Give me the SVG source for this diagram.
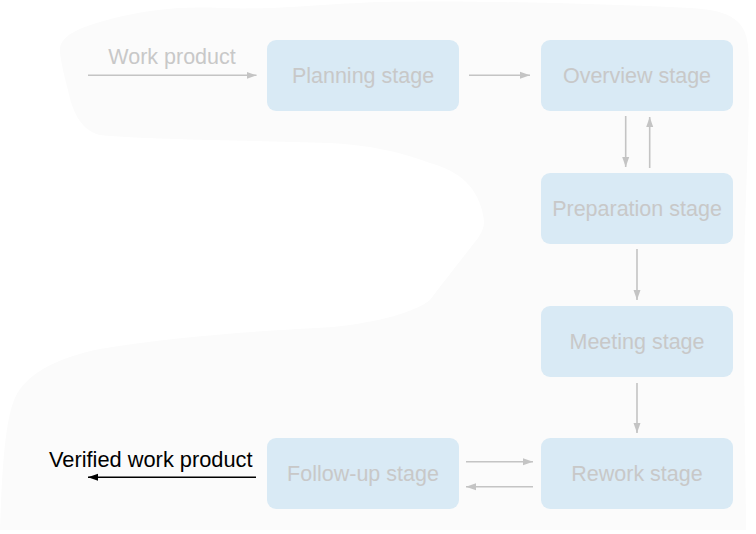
<svg xmlns="http://www.w3.org/2000/svg" width="756" height="534" viewBox="0 0 756 534">
<style>
.box{fill:#d9eaf5;}
.lbl{font-family:"Liberation Sans",Arial,sans-serif;font-size:21.5px;fill:#c8c8c8;text-anchor:middle;}
.edge{stroke:#c4c4c4;stroke-width:1.6;fill:none;marker-end:url(#ah);}
.out{stroke:#000;stroke-width:1.6;fill:none;marker-end:url(#ahb);}
</style>
<defs>
<marker id="ah" markerUnits="userSpaceOnUse" markerWidth="11" markerHeight="8" refX="10" refY="4" orient="auto"><path d="M0,0.5 L10,4 L0,7.5 z" fill="#c4c4c4"/></marker>
<marker id="ahb" markerUnits="userSpaceOnUse" markerWidth="11" markerHeight="8" refX="10" refY="4" orient="auto"><path d="M0,0.5 L10,4 L0,7.5 z" fill="#000"/></marker>
</defs>
<rect width="756" height="534" fill="#ffffff"/>
<path id="backdrop" fill="#fbfbfb" d="M60,52 C58,36 80,28 100,22 C140,10 180,6 220,8 C280,10 320,4 380,2 C480,0 600,4 690,8 C730,10 745,20 748,45 C752,100 744,200 744,300 C744,400 746,480 746,530 L0,530 C2,470 5,420 15,398 C25,375 55,358 100,349 C180,335 280,330 333,327 C380,322 415,312 430,300 C445,280 465,255 478,238 C485,228 485,222 482,210 C476,188 462,172 430,163 C400,152 370,145 330,143 C250,140 150,140 100,135 C80,130 72,110 68,90 C64,75 61,62 60,52 Z"/>
<g id="connectors">
<path class="edge" d="M88,75.3 L256.5,75.3"/>
<path class="edge" d="M469,75.3 L530,75.3"/>
<path class="edge" d="M625.7,116 L625.7,167"/>
<path class="edge" d="M649.7,168 L649.7,117"/>
<path class="edge" d="M637,249 L637,300"/>
<path class="edge" d="M637,383 L637,433"/>
<path class="edge" d="M466,461.7 L533,461.7"/>
<path class="edge" d="M533,486.7 L466,486.7"/>
<path class="out" d="M256,477.3 L88,477.3"/>
<text x="172" y="64" class="lbl">Work product</text>
<text x="49" y="467" font-family="Liberation Sans,Arial,sans-serif" font-size="21.8" fill="#000">Verified work product</text>
</g>
<g id="planning"><rect class="box" x="267" y="40" width="192" height="71" rx="9"/><text class="lbl" x="363" y="83">Planning stage</text></g>
<g id="overview"><rect class="box" x="541" y="40" width="192" height="71" rx="9"/><text class="lbl" x="637" y="83">Overview stage</text></g>
<g id="preparation"><rect class="box" x="541" y="173" width="192" height="71" rx="9"/><text class="lbl" x="637" y="216">Preparation stage</text></g>
<g id="meeting"><rect class="box" x="541" y="306" width="192" height="71" rx="9"/><text class="lbl" x="637" y="349">Meeting stage</text></g>
<g id="rework"><rect class="box" x="541" y="438" width="192" height="71" rx="9"/><text class="lbl" x="637" y="481">Rework stage</text></g>
<g id="followup"><rect class="box" x="267" y="438" width="192" height="71" rx="9"/><text class="lbl" x="363" y="481">Follow-up stage</text></g>
</svg>
